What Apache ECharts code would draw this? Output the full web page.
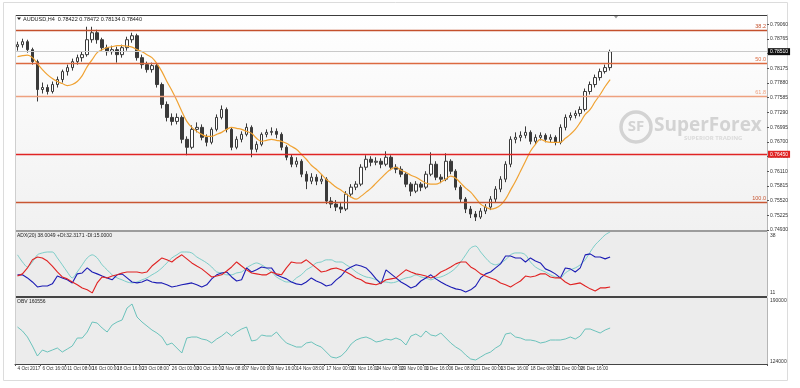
<!DOCTYPE html>
<html><head><meta charset="utf-8">
<script src="https://cdn.jsdelivr.net/npm/echarts@6/dist/echarts.min.js"></script>
<style>html,body{margin:0;padding:0;background:#fff}#c{width:800px;height:388px}</style>
</head><body><div id="c"></div>
<script>
const opens = [
0.7861,0.7865,0.7871,0.7855,0.7831,0.7775,0.7779,0.7771,0.7785,0.7795,
0.7811,0.7819,0.7831,0.7839,0.7845,0.7875,0.7889,0.7875,0.7859,0.7851,
0.7855,0.7845,0.7859,0.7875,0.7883,0.7839,0.7825,0.7815,0.7823,0.7785,
0.7745,0.7719,0.7711,0.7719,0.7675,0.7659,0.7695,0.7699,0.7679,0.7669,
0.7695,0.7719,0.7735,0.7695,0.7659,0.7675,0.7685,0.7699,0.7655,0.7665,
0.7685,0.7689,0.7691,0.7685,0.7659,0.7639,0.7625,0.7631,0.7605,0.7591,
0.7599,0.7591,0.7595,0.7551,0.7545,0.7539,0.7535,0.7565,0.7579,0.7585,
0.7619,0.7635,0.7629,0.7631,0.7625,0.7639,0.7619,0.7615,0.7605,0.7585,
0.7571,0.7585,0.7579,0.7605,0.7625,0.7599,0.7595,0.7631,0.7611,0.7579,
0.7555,0.7535,0.7525,0.7519,0.7531,0.7539,0.7555,0.7575,0.7595,0.7625,
0.7675,0.7679,0.7683,0.7689,0.7671,0.7679,0.7683,0.7675,0.7679,0.7669,
0.7699,0.7719,0.7723,0.7727,0.7735,0.7771,0.7785,0.7799,0.7811,0.7819];
const closes = [
0.7865,0.7871,0.7855,0.7831,0.7775,0.7779,0.7771,0.7785,0.7795,0.7811,
0.7819,0.7831,0.7839,0.7845,0.7875,0.7889,0.7875,0.7859,0.7851,0.7855,
0.7845,0.7859,0.7875,0.7883,0.7839,0.7825,0.7815,0.7823,0.7785,0.7745,
0.7719,0.7711,0.7719,0.7675,0.7659,0.7695,0.7699,0.7679,0.7669,0.7695,
0.7719,0.7735,0.7695,0.7659,0.7675,0.7685,0.7699,0.7655,0.7665,0.7685,
0.7689,0.7691,0.7685,0.7659,0.7639,0.7625,0.7631,0.7605,0.7591,0.7599,
0.7591,0.7595,0.7551,0.7545,0.7539,0.7535,0.7565,0.7579,0.7585,0.7619,
0.7635,0.7629,0.7631,0.7625,0.7639,0.7619,0.7615,0.7605,0.7585,0.7571,
0.7585,0.7579,0.7605,0.7625,0.7599,0.7595,0.7631,0.7611,0.7579,0.7555,
0.7535,0.7525,0.7519,0.7531,0.7539,0.7555,0.7575,0.7595,0.7625,0.7675,
0.7679,0.7683,0.7689,0.7671,0.7679,0.7683,0.7675,0.7679,0.7669,0.7699,
0.7719,0.7723,0.7727,0.7735,0.7771,0.7785,0.7799,0.7811,0.7819,0.7851];
const lows = [
0.7853,0.7859,0.7849,0.7825,0.7751,0.7767,0.7765,0.7767,0.7779,0.7789,
0.7803,0.7813,0.7825,0.7831,0.7841,0.7869,0.7867,0.7853,0.7843,0.7845,
0.7829,0.7839,0.7853,0.7869,0.7833,0.7817,0.7809,0.7809,0.7779,0.7737,
0.7711,0.7703,0.7705,0.7667,0.7643,0.7655,0.7689,0.7673,0.7661,0.7665,
0.7691,0.7715,0.7689,0.7653,0.7655,0.7669,0.7681,0.7639,0.7649,0.7661,
0.7679,0.7683,0.7677,0.7653,0.7633,0.7619,0.7619,0.7599,0.7575,0.7585,
0.7583,0.7585,0.7545,0.7537,0.7531,0.7527,0.7531,0.7559,0.7573,0.7581,
0.7613,0.7621,0.7623,0.7617,0.7621,0.7613,0.7607,0.7599,0.7579,0.7561,
0.7567,0.7571,0.7575,0.7601,0.7593,0.7587,0.7591,0.7605,0.7573,0.7549,
0.7527,0.7517,0.7511,0.7515,0.7525,0.7533,0.7549,0.7569,0.7589,0.7619,
0.7667,0.7671,0.7677,0.7665,0.7665,0.7673,0.7669,0.7669,0.7663,0.7665,
0.7693,0.7713,0.7717,0.7721,0.7731,0.7765,0.7779,0.7793,0.7807,0.7813];
const highs = [
0.7871,0.7877,0.7875,0.7859,0.7835,0.7789,0.7785,0.7791,0.7801,0.7815,
0.7825,0.7837,0.7845,0.7851,0.7901,0.7901,0.7895,0.7879,0.7865,0.7863,
0.7861,0.7865,0.7881,0.7889,0.7887,0.7845,0.7831,0.7829,0.7827,0.7789,
0.7751,0.7727,0.7727,0.7723,0.7681,0.7703,0.7709,0.7705,0.7685,0.7699,
0.7725,0.7743,0.7739,0.7699,0.7681,0.7691,0.7707,0.7703,0.7671,0.7689,
0.7695,0.7699,0.7697,0.7689,0.7663,0.7645,0.7639,0.7635,0.7611,0.7607,
0.7605,0.7603,0.7599,0.7559,0.7553,0.7547,0.7571,0.7585,0.7591,0.7625,
0.7643,0.7641,0.7639,0.7637,0.7651,0.7643,0.7625,0.7621,0.7609,0.7589,
0.7591,0.7589,0.7611,0.7649,0.7631,0.7605,0.7647,0.7635,0.7615,0.7583,
0.7559,0.7541,0.7531,0.7537,0.7545,0.7561,0.7581,0.7601,0.7631,0.7681,
0.7689,0.7691,0.7701,0.7693,0.7685,0.7689,0.7687,0.7685,0.7683,0.7705,
0.7725,0.7729,0.7733,0.7741,0.7777,0.7791,0.7805,0.7817,0.7825,0.7855];
const maValues = [
0.7841,0.7843,0.7844,0.7839,0.7827,0.7815,0.7805,0.7797,0.7791,0.7787,
0.7783,0.7785,0.7791,0.7803,0.7821,0.7835,0.7849,0.7855,0.7859,0.7861,
0.7863,0.7863,0.7862,0.7860,0.7855,0.7851,0.7845,0.7839,0.7827,0.7811,
0.7791,0.7773,0.7753,0.7731,0.7711,0.7699,0.7691,0.7685,0.7681,0.7681,
0.7685,0.7689,0.7695,0.7699,0.7697,0.7695,0.7691,0.7687,0.7677,0.7671,
0.7673,0.7675,0.7673,0.7671,0.7667,0.7661,0.7655,0.7645,0.7635,0.7623,
0.7615,0.7605,0.7595,0.7587,0.7579,0.7573,0.7565,0.7559,0.7555,0.7561,
0.7569,0.7577,0.7587,0.7597,0.7607,0.7615,0.7619,0.7613,0.7609,0.7603,
0.7599,0.7593,0.7587,0.7585,0.7585,0.7589,0.7595,0.7601,0.7597,0.7587,
0.7577,0.7569,0.7557,0.7545,0.7539,0.7535,0.7537,0.7543,0.7555,0.7573,
0.7591,0.7611,0.7631,0.7651,0.7665,0.7675,0.7671,0.7669,0.7669,0.7669,
0.7677,0.7685,0.7695,0.7709,0.7725,0.7735,0.7751,0.7765,0.7781,0.7795];
const adxValues = [
28.4,25.4,23.3,25.4,28.4,29.2,29.6,29.6,27.1,24.2,
21.2,18.7,21.2,24.2,27.1,28.4,27.1,24.2,22.1,20.0,
18.7,17.9,17.0,16.6,17.0,17.9,18.7,20.0,21.2,22.9,
25.0,27.1,28.4,29.6,29.6,29.2,27.5,26.3,25.0,23.3,
21.2,20.8,20.0,20.0,20.8,21.2,22.9,24.2,25.0,24.2,
22.9,21.2,19.1,17.9,17.0,17.0,18.7,20.0,22.1,23.3,
25.0,25.4,26.3,26.3,25.4,25.4,24.2,22.9,21.2,20.0,
19.1,18.7,17.9,17.0,17.0,16.6,17.0,17.9,18.7,19.1,
20.0,19.1,18.7,17.9,18.7,19.1,20.0,21.2,22.9,25.4,
28.4,31.3,32.1,29.6,27.1,25.0,24.2,25.0,26.3,28.4,
29.2,29.2,28.4,25.4,23.3,22.1,21.2,20.0,19.1,18.7,
20.8,22.1,22.9,24.2,26.3,29.6,32.6,34.7,36.8,38.0];
const plusDI = [
20.0,20.0,18.7,17.0,14.9,15.3,15.3,16.2,19.5,18.7,
17.9,16.6,20.4,20.8,22.9,21.2,20.4,19.5,18.7,17.9,
20.0,20.4,18.7,17.0,16.6,17.0,17.9,17.0,16.6,16.6,
15.8,14.9,15.3,15.8,16.2,16.6,15.8,14.9,15.8,18.3,
20.0,20.8,21.2,19.1,17.4,17.9,22.9,21.2,22.1,23.3,
22.9,22.9,20.0,19.1,18.3,17.0,16.2,15.8,17.0,18.7,
17.4,16.6,15.3,15.8,17.9,19.5,22.1,23.3,24.2,23.7,
22.9,20.8,18.3,16.2,22.1,20.4,18.7,17.0,15.8,14.5,
15.3,17.4,18.7,20.0,18.3,17.0,15.8,14.9,14.1,13.7,
12.8,13.7,15.3,18.7,20.4,21.2,22.9,24.6,27.9,27.9,
27.1,27.1,25.4,27.1,25.8,25.0,22.5,21.6,20.4,18.7,
22.9,22.5,21.2,22.9,28.4,28.8,27.5,27.5,26.7,27.5];
const minusDI = [
19.5,20.4,22.9,26.3,27.5,27.1,25.8,23.7,21.2,19.1,
18.3,17.0,15.8,14.5,13.7,12.4,16.6,19.1,18.7,19.5,
20.0,20.8,21.2,21.2,21.2,20.8,21.2,23.7,25.4,27.1,
26.3,25.4,27.1,28.4,26.7,25.0,23.7,22.5,20.8,19.1,
19.5,20.0,21.6,23.3,25.4,23.7,22.1,20.8,20.4,20.0,
20.0,21.2,20.4,20.0,22.9,25.4,25.0,25.0,26.3,24.6,
22.9,21.2,21.6,22.5,22.9,22.1,21.2,20.0,18.7,17.9,
16.6,16.2,15.8,16.6,17.9,18.3,18.7,20.4,22.1,21.2,
20.4,20.0,19.5,18.7,19.5,21.2,22.1,23.3,24.6,25.4,
25.4,23.3,22.1,20.4,19.5,18.7,17.9,16.6,15.8,14.9,
16.2,17.4,19.5,19.1,19.5,20.4,20.4,19.1,18.7,18.7,
17.0,15.8,16.2,16.6,15.3,14.1,13.2,14.5,14.5,14.9];
const obvValues = [
161000,157000,151000,142000,132000,138000,136000,138000,140000,136000,
139000,142000,150000,150000,156000,166000,165000,160000,156000,163000,
166000,168000,180000,184000,171000,166000,162000,158000,155000,151000,
143000,145000,140000,135000,150000,151000,151000,149000,148000,145000,
149000,152000,156000,152000,156000,159000,161000,147000,148000,153000,
152000,152000,156000,150000,145000,143000,141000,141000,145000,146000,
143000,141000,136000,131000,130000,132000,137000,144000,148000,150000,
151000,149000,146000,147000,149000,148000,150000,148000,143000,152000,
154000,151000,157000,153000,152000,155000,150000,145000,141000,138000,
133000,129000,128000,131000,134000,136000,140000,143000,154000,155000,
151000,150000,148000,148000,147000,145000,146000,148000,148000,148000,
149000,151000,149000,152000,159000,159000,157000,155000,158000,160000];
const fibLevels = [0.7893, 0.7827, 0.7761, 0.7549];
const fibNames = ['38.2', '50.0', '61.8', '100.0'];
const redLevel = 0.7645;
const dateLabels = ['4 Oct 2017','6 Oct 16:00','11 Oct 08:00','16 Oct 00:00','18 Oct 16:00','23 Oct 08:00','26 Oct 00:00','30 Oct 16:00','2 Nov 08:00','7 Nov 00:00','9 Nov 16:00','14 Nov 08:00','17 Nov 00:00','21 Nov 16:00','24 Nov 08:00','29 Nov 00:00','1 Dec 16:00','6 Dec 08:00','11 Dec 00:00','13 Dec 16:00','18 Dec 08:00','21 Dec 00:00','26 Dec 16:00','29 Dec 12:00'];
const dateLabelBars = [0,5,10,15,20,25,31,36,41,46,51,56,62,67,72,77,82,87,92,97,103,108,113,118];
const shiftBars = 31;

const nBars = opens.length;
const cats = Array.from({length: nBars + shiftBars}, (_, i) => 'b' + i);
const candleData = opens.map((o, i) => [o, closes[i], lows[i], highs[i]]);
const labelMap = {};
dateLabelBars.forEach((b, k) => { labelMap[b] = dateLabels[k]; });
const lastClose = closes[nBars - 1];
const FONT = '"Liberation Sans", Arial, sans-serif';
const fibColors = ['#c4502c', '#dc6a40', '#eea17f', '#c85632'];

const chart = echarts.init(document.getElementById('c'), null, {renderer: 'canvas'});
const L = 15, W = 752;
const hiddenX = (gi) => ({type: 'category', gridIndex: gi, data: cats, boundaryGap: true,
  axisLine: {show: false}, axisTick: {show: false}, axisLabel: {show: false}, splitLine: {show: false}});

const fibMarks = fibLevels.map((v, k) => ({
  yAxis: v,
  lineStyle: {color: fibColors[k], width: 1.4, type: 'solid'},
  label: {show: true, position: 'insideEndTop', distance: 1, formatter: fibNames[k],
    color: fibColors[k], fontSize: 5.5, fontFamily: FONT}
}));

chart.setOption({
  animation: false,
  backgroundColor: '#ffffff',
  grid: [
    {left: L, top: 15, width: W, height: 215, show: true, borderWidth: 0,
      backgroundColor: new echarts.graphic.LinearGradient(0, 0, 0, 1, [{offset: 0, color: '#ffffff'}, {offset: 1, color: '#f1f1f1'}])},
    {left: L, top: 232, width: W, height: 64, show: true, borderWidth: 0, backgroundColor: '#ececec'},
    {left: L, top: 298, width: W, height: 66, show: true, borderWidth: 0, backgroundColor: '#ececec'}
  ],
  xAxis: [
    hiddenX(0), hiddenX(1),
    {type: 'category', gridIndex: 2, data: cats, boundaryGap: true,
      axisLine: {show: true, lineStyle: {color: '#444', width: 1}},
      axisTick: {show: true, length: 2, interval: (i) => labelMap[i] !== undefined, lineStyle: {color: '#555'}},
      axisLabel: {show: true, interval: (i) => labelMap[i] !== undefined, formatter: (v, i) => labelMap[i] || '',
        fontSize: 4.7, color: '#333', fontFamily: FONT, margin: 2, align: 'left', hideOverlap: false},
      splitLine: {show: false}}
  ],
  yAxis: [
    {type: 'value', gridIndex: 0, position: 'right', min: 0.7493, max: 0.79246, interval: 0.00295,
      axisLine: {show: true, lineStyle: {color: '#b5b5b5'}},
      axisTick: {show: true, length: 2, lineStyle: {color: '#555'}},
      axisLabel: {fontSize: 5, color: '#333', fontFamily: FONT, margin: 3, showMaxLabel: false,
        formatter: (v) => v.toFixed(5)},
      splitLine: {show: false}},
    {type: 'value', gridIndex: 1, position: 'right', min: 11.1, max: 38.0,
      axisLine: {show: true, lineStyle: {color: '#b5b5b5'}},
      axisTick: {show: false},
      axisLabel: {fontSize: 5, color: '#333', fontFamily: FONT, margin: 3, customValues: [36.5, 12.5],
        formatter: (v) => v > 30 ? '38' : '11'},
      splitLine: {show: false}},
    {type: 'value', gridIndex: 2, position: 'right', min: 124000, max: 190000,
      axisLine: {show: true, lineStyle: {color: '#b5b5b5'}},
      axisTick: {show: false},
      axisLabel: {fontSize: 5, color: '#333', fontFamily: FONT, margin: 3, customValues: [187000, 126000],
        formatter: (v) => v > 150000 ? '190000' : '124000'},
      splitLine: {show: false}}
  ],
  series: [
    {type: 'candlestick', xAxisIndex: 0, yAxisIndex: 0, data: candleData, barWidth: 3,
      itemStyle: {color: '#ffffff', color0: '#3a3a3a', borderColor: '#3a3a3a', borderColor0: '#3a3a3a', borderWidth: 1},
      markLine: {silent: true, symbol: ['none', 'none'], animation: false, precision: 6,
        data: fibMarks.concat([
          {yAxis: redLevel, lineStyle: {color: '#e02424', width: 1.4, type: 'solid'},
            label: {show: true, position: 'end', distance: 1, formatter: redLevel.toFixed(5), color: '#fff',
              backgroundColor: '#e02424', padding: [1, 2], fontSize: 5, fontFamily: FONT}},
          {yAxis: lastClose, lineStyle: {color: '#c9c9c9', width: 1, type: 'solid'},
            label: {show: true, position: 'end', distance: 1, formatter: lastClose.toFixed(5), color: '#fff',
              backgroundColor: '#111', padding: [1, 2], fontSize: 5, fontFamily: FONT}}
        ])}},
    {type: 'line', xAxisIndex: 0, yAxisIndex: 0, data: maValues, showSymbol: false, smooth: 0.4,
      lineStyle: {color: '#f0a232', width: 1.2}, z: 3},
    {type: 'line', xAxisIndex: 1, yAxisIndex: 1, data: adxValues, showSymbol: false, smooth: 0.3,
      lineStyle: {color: '#6fcac4', width: 0.9}},
    {type: 'line', xAxisIndex: 1, yAxisIndex: 1, data: plusDI, showSymbol: false,
      lineStyle: {color: '#1c1cb4', width: 1.1}},
    {type: 'line', xAxisIndex: 1, yAxisIndex: 1, data: minusDI, showSymbol: false,
      lineStyle: {color: '#e02222', width: 1.1}},
    {type: 'line', xAxisIndex: 2, yAxisIndex: 2, data: obvValues, showSymbol: false,
      lineStyle: {color: '#5cbdb5', width: 0.9}}
  ],
  graphic: [
    {type: 'rect', z: -10, silent: true, shape: {x: 3.5, y: 2.5, width: 784, height: 378},
      style: {fill: 'none', stroke: '#dcdcdc', lineWidth: 1}},
    {type: 'line', z: 50, silent: true, shape: {x1: L, y1: 15.5, x2: L + W, y2: 15.5}, style: {stroke: '#3c3c3c', lineWidth: 1}},
    {type: 'line', z: 50, silent: true, shape: {x1: L, y1: 231, x2: L + W, y2: 231}, style: {stroke: '#9c9c9c', lineWidth: 2}},
    {type: 'line', z: 50, silent: true, shape: {x1: L, y1: 297, x2: L + W, y2: 297}, style: {stroke: '#444', lineWidth: 2}},
    {type: 'line', z: 50, silent: true, shape: {x1: L + 0.5, y1: 15, x2: L + 0.5, y2: 364}, style: {stroke: '#cfcfcf', lineWidth: 1}},
    {type: 'polygon', z: 50, silent: true, shape: {points: [[17, 17.5], [21, 17.5], [19, 20]]}, style: {fill: '#222'}},
    {type: 'polygon', z: 50, silent: true, shape: {points: [[614, 16], [618, 16], [616, 18.5]]}, style: {fill: '#999'}},
    {type: 'text', z: 50, silent: true, style: {text: 'AUDUSD,H4  0.78422 0.78472 0.78134 0.78440', x: 23, y: 16.5,
      fill: '#222', font: '5.5px ' + FONT}},
    {type: 'text', z: 50, silent: true, style: {text: 'ADX(20) 38.0049 +DI:32.3171 -DI:15.0000', x: 17, y: 233.5,
      fill: '#222', font: '5px ' + FONT}},
    {type: 'text', z: 50, silent: true, style: {text: 'OBV 160556', x: 17, y: 299.5,
      fill: '#222', font: '5px ' + FONT}},
    {type: 'circle', z: 1, silent: true, shape: {cx: 636, cy: 127, r: 15}, style: {fill: 'none', stroke: '#d3d3d3', lineWidth: 3.5}},
    {type: 'text', z: 1, silent: true, style: {text: 'SF', x: 636, y: 127, align: 'center', verticalAlign: 'middle',
      fill: '#d3d3d3', font: 'bold 15px "Open Sans", sans-serif'}},
    {type: 'text', z: 1, silent: true, style: {text: 'SuperForex', x: 654, y: 126, verticalAlign: 'middle',
      fill: '#d3d3d3', font: 'bold 19px "Open Sans", sans-serif'}},
    {type: 'text', z: 1, silent: true, style: {text: 'SUPERIOR TRADING', x: 684, y: 138, verticalAlign: 'middle',
      fill: '#dadada', font: 'bold 6px "Open Sans", sans-serif'}}
  ]
});
</script>
</body></html>
